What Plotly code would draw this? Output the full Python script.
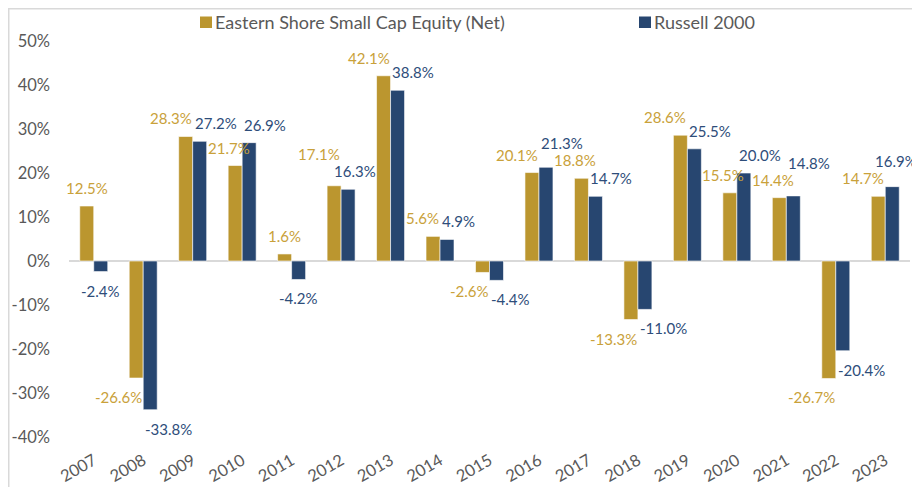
import plotly.graph_objects as go

years = ["2007", "2008", "2009", "2010", "2011", "2012", "2013", "2014", "2015",
         "2016", "2017", "2018", "2019", "2020", "2021", "2022", "2023"]
eastern = [12.5, -26.6, 28.3, 21.7, 1.6, 17.1, 42.1, 5.6, -2.6,
           20.1, 18.8, -13.3, 28.6, 15.5, 14.4, -26.7, 14.7]
russell = [-2.4, -33.8, 27.2, 26.9, -4.2, 16.3, 38.8, 4.9, -4.4,
           21.3, 14.7, -11.0, 25.5, 20.0, 14.8, -20.4, 16.9]
series_names = ["Eastern Shore Small Cap Equity (Net)", "Russell 2000"]
y_ticks = [-40, -30, -20, -10, 0, 10, 20, 30, 40, 50]
Y_MIN, Y_MAX = -40, 50

GOLD = "#BB962F"
BLUE = "#274670"
GOLD_TXT = "#C9A13A"
BLUE_TXT = "#2E4D7A"
GRAY = "#595959"
FONT = "Lato"
LBL_SIZE = 15
BARGAP = 0.434

# page offset (browser body margin)
OFF = 8
VW, VH = 920, 487                      # visible window
W, H = VW - OFF, VH - OFF              # figure size
ML_V, MR, MT_V, MB = 69, 10, 41, 50    # plot area edges in window pixels
ML, MT = ML_V - OFF, MT_V - OFF
PW, PH = W - ML - MR, H - MT - MB
N = len(years)
CW = PW / N
BW = CW * (1 - BARGAP) / 2


def px_x(x):   # window pixel -> paper x
    return (x - ML_V) / PW


def px_y(y):   # window pixel -> paper y
    return (VH - MB - y) / PH


def val_py(v):  # data value -> window pixel y
    return MT_V + (Y_MAX - v) * PH / (Y_MAX - Y_MIN)


def text_w(s):
    w = 0
    for ch in s:
        if ch.isdigit():
            w += 0.58
        elif ch == "%":
            w += 0.80
        elif ch == ".":
            w += 0.25
        elif ch == "-":
            w += 0.37
    return w * LBL_SIZE


def gc_of(i):
    return ML_V + (i + 0.5) * CW


fig = go.Figure()
fig.add_trace(go.Bar(x=years, y=eastern, name=series_names[0], marker_color=GOLD,
                     marker_line=dict(color="rgba(255,255,255,0.6)", width=1)))
fig.add_trace(go.Bar(x=years, y=russell, name=series_names[1], marker_color=BLUE,
                     marker_line=dict(color="rgba(255,255,255,0.6)", width=1)))

# ---- data label placement -------------------------------------------------
labels = []
for i, (g, b) in enumerate(zip(eastern, russell)):
    same_side = (g >= 0) == (b >= 0)
    gc = gc_of(i)
    for val, col, side in ((g, GOLD_TXT, "left"), (b, BLUE_TXT, "right")):
        txt = f"{val:.1f}%"
        w = text_w(txt)
        if same_side:
            cx = gc - 1 - w / 2 if side == "left" else gc + 2 + w / 2
        else:
            cx = gc + (-7 if side == "left" else 7)
        cx = min(cx, VW - 3 - w / 2)
        labels.append(dict(i=i, side=side, val=val, txt=txt, col=col, w=w, cx=cx,
                           bar_end=val_py(val), off=18 if val >= 0 else 19))


def label_y(L):
    return L["bar_end"] + (-L["off"] if L["val"] >= 0 else L["off"])


# keep labels off the neighbouring group's bars
zero_py = val_py(0)
for L in labels:
    i, ly = L["i"], label_y(L)
    if L["side"] == "left" and i > 0:
        nb_x0, nb_x1, nb_v = gc_of(i - 1), gc_of(i - 1) + BW, russell[i - 1]
        own_c = gc_of(i) - BW / 2
    elif L["side"] == "right" and i < N - 1:
        nb_x0, nb_x1, nb_v = gc_of(i + 1) - BW, gc_of(i + 1), eastern[i + 1]
        own_c = gc_of(i) + BW / 2
    else:
        continue
    top, bot = sorted((val_py(nb_v), zero_py))
    if ly + 8 > top and ly - 8 < bot:
        if L["side"] == "left" and L["cx"] - L["w"] / 2 < nb_x1 + 1:
            L["cx"] = min(nb_x1 + 1 + L["w"] / 2, own_c)
        if L["side"] == "right" and L["cx"] + L["w"] / 2 > nb_x0 - 1:
            L["cx"] = max(nb_x0 - 1 - L["w"] / 2, own_c)

# resolve label/label overlaps by pushing the larger-magnitude label outward
for _ in range(5):
    for a in range(len(labels)):
        for c in range(a + 1, len(labels)):
            A, B = labels[a], labels[c]
            if (A["val"] >= 0) != (B["val"] >= 0):
                continue
            if abs(A["cx"] - B["cx"]) < (A["w"] + B["w"]) / 2 + 1 and \
                    abs(label_y(A) - label_y(B)) < 16:
                big = A if abs(A["val"]) >= abs(B["val"]) else B
                other = B if big is A else A
                yo = label_y(other)
                yb_new = yo - 17 if big["val"] >= 0 else yo + 17
                big["off"] = abs(yb_new - big["bar_end"])

annotations = []
for L in labels:
    annotations.append(dict(
        x=px_x(L["cx"]), y=L["val"], xref="paper", yref="y", text=L["txt"],
        showarrow=False, xanchor="center", yanchor="middle",
        yshift=L["off"] if L["val"] >= 0 else -L["off"],
        font=dict(family=FONT, size=LBL_SIZE, color=L["col"])))

# ---- manual legend -----------------------------------------------------------
leg = [(200, GOLD, series_names[0]), (639, BLUE, series_names[1])]
shapes = []
for x0, col, name in leg:
    shapes.append(dict(type="rect", xref="paper", yref="paper",
                       x0=px_x(x0), x1=px_x(x0 + 12), y0=px_y(28), y1=px_y(16.5),
                       fillcolor=col, line=dict(width=0)))
    annotations.append(dict(x=px_x(x0 + 13), y=px_y(22), xref="paper", yref="paper",
                            text=name, showarrow=False, xanchor="left", yanchor="middle",
                            font=dict(family=FONT, size=18, color=GRAY)))

# zero line
shapes.append(dict(type="line", xref="paper", yref="y", x0=0, x1=1, y0=0, y1=0,
                   line=dict(color="#D9D9D9", width=2), layer="below"))
# outer frame lines (chart border)
shapes.append(dict(type="line", xref="paper", yref="paper", x0=px_x(8.5), x1=px_x(925),
                   y0=px_y(8.5), y1=px_y(8.5), line=dict(color="#D9D9D9", width=2)))
shapes.append(dict(type="line", xref="paper", yref="paper", x0=px_x(8.5), x1=px_x(8.5),
                   y0=px_y(7), y1=px_y(495), line=dict(color="#D9D9D9", width=2)))

fig.update_layout(
    width=W, height=H,
    margin=dict(l=ML, r=MR, t=MT, b=MB, pad=0, autoexpand=False),
    paper_bgcolor="white", plot_bgcolor="white",
    barmode="group", bargap=BARGAP, bargroupgap=0,
    showlegend=False,
    annotations=annotations, shapes=shapes,
    font=dict(family=FONT, color=GRAY),
)
fig.update_xaxes(type="category", range=[-0.5, N - 0.5], automargin=False,
                 showgrid=False, zeroline=False, showline=False,
                 tickangle=-30,
                 tickfont=dict(family=FONT, size=16.5, color=GRAY),
                 ticks="", ticklabelstandoff=10)
fig.update_yaxes(range=[Y_MIN, Y_MAX], tickvals=y_ticks, automargin=False,
                 ticktext=[f"{v}%" for v in y_ticks],
                 showgrid=False, zeroline=False, showline=False,
                 tickfont=dict(family=FONT, size=16.5, color=GRAY),
                 ticks="", ticklabelstandoff=18)

fig.write_html("out.html")
